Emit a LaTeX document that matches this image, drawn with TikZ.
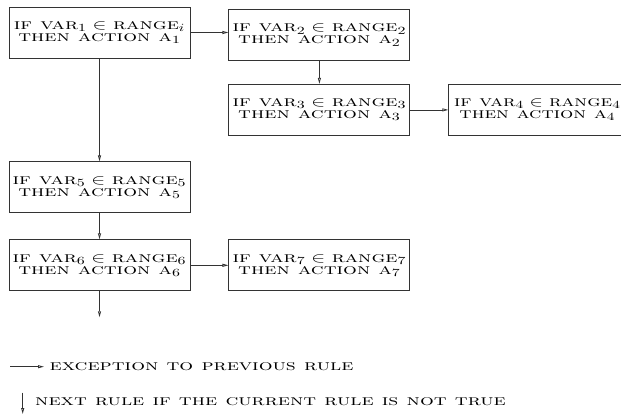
\documentclass[tikz,border=0pt]{standalone}
\usepackage{amsmath,amssymb}
\usepackage{graphicx}
\usepackage{tikz}
\usetikzlibrary{positioning,arrows.meta,calc}
\definecolor{rulegray}{HTML}{333333}
\newcommand{\widefactor}{1.45}
\newcommand{\wide}[1]{\scalebox{\widefactor}[1]{#1}}
\newcommand{\rl}[3]{\wide{\textsc{if var}$_{#1}\in$ \textsc{range}$_{#2}$}\\\wide{\textsc{then action a}$_{#3}$}}
\tikzset{
    x=1pt,y=1pt,
    rulebox/.style={draw=rulegray,line width=0.9pt,minimum width=181pt,minimum height=51pt,
        inner sep=0pt,align=center,font=\fontsize{15}{12}\selectfont},
    every edge/.style={draw,-{Triangle[open,length=6pt,width=3pt]},line width=0.8pt,rulegray},
    legend/.style={anchor=west,inner sep=0pt,font=\fontsize{15}{12}\selectfont},
}
\begin{document}
\begin{tikzpicture}
    \useasboundingbox (0,0) rectangle (621,416);
    \node[rulebox] (r1) at (99.5,383.5) {\rl{1}{i}{1}};
    \node[rulebox,right=38pt of r1,yshift=-2.5pt] (r2) {\rl{2}{2}{2}};
    \node[rulebox,below=23pt of r2] (r3) {\rl{3}{3}{3}};
    \node[rulebox,right=38pt of r3,minimum width=177pt,
        font=\fontsize{15}{12}\selectfont\renewcommand{\widefactor}{1.39}] (r4) {\rl{4}{4}{4}};
    \node[rulebox,below=103pt of r1] (r5) {\rl{5}{5}{5}};
    \node[rulebox,below=26pt of r5] (r6) {\rl{6}{6}{6}};
    \node[rulebox,right=38pt of r6] (r7) {\rl{7}{7}{7}};
    \coordinate[below=26pt of r6] (next);

    % legend
    \coordinate (ea) at (10,49.3);
    \coordinate (eb) at (44,49.3);
    \node[legend] (ex) at (49.5,49.3) {\wide{\textsc{exception to previous rule}}};
    \coordinate (na) at (22.7,23.3);
    \coordinate (nb) at (22.7,2);
    \node[legend] (nx) at (35,14.3) {\wide{\textsc{next rule if the current rule is not true}}};

    \path
    (r1.east) edge (r1.east -| r2.west)
    (r2) edge (r3)
    (r3) edge (r4)
    (r1) edge (r5)
    (r5) edge (r6)
    (r6) edge (r7)
    (r6) edge (next)
    (ea) edge (eb)
    (na) edge (nb);
\end{tikzpicture}
\end{document}
